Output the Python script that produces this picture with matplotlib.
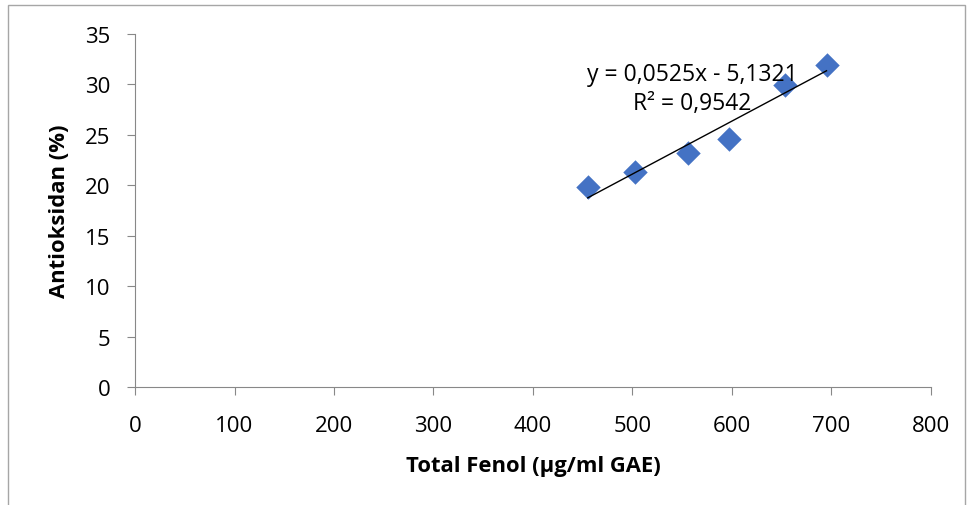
import matplotlib.pyplot as plt
import numpy as np
from matplotlib.patches import Rectangle

# Data
total_fenol = [455, 503, 556, 597, 653, 695]
antioksidan = [19.8, 21.3, 23.2, 24.6, 29.9, 31.9]
slope = 0.0525
intercept = -5.1321
r_squared = 0.9542

x_ticks = [0, 100, 200, 300, 400, 500, 600, 700, 800]
y_ticks = [0, 5, 10, 15, 20, 25, 30, 35]

plt.rcParams["font.family"] = ["Open Sans", "DejaVu Sans"]

fig = plt.figure(figsize=(9.72, 5.06), dpi=100)
ax = fig.add_axes([0.1389, 0.2332, 0.8189, 0.6976])

# chart border
fig.patches.append(Rectangle((8 / 972, -0.05), 957 / 972, 1.05 - 6 / 506,
                             transform=fig.transFigure, fill=False,
                             edgecolor="#a6a6a6", linewidth=1.0))

ax.scatter(total_fenol, antioksidan, marker="D", s=155, color="#4472C4",
           zorder=3, linewidths=0)

xs = np.array([min(total_fenol), max(total_fenol)])
ax.plot(xs, slope * xs + intercept, color="black", linewidth=1.0, zorder=4)

eq = f"y = {slope:.4f}x - {abs(intercept):.4f}".replace(".", ",")
r2 = f"R² = {r_squared:.4f}".replace(".", ",")
ax.text(560, 29.6, eq + "\n" + r2, ha="center", va="center", fontsize=16.5,
        linespacing=1.25, zorder=5)

ax.set_xlim(0, 800)
ax.set_ylim(0, 35)
ax.set_xticks(x_ticks)
ax.set_yticks(y_ticks)
ax.tick_params(direction="out", length=5.8, color="#888888", labelsize=16)
ax.tick_params(axis="x", pad=14)
ax.tick_params(axis="y", pad=12)

for side in ("top", "right"):
    ax.spines[side].set_visible(False)
for side in ("left", "bottom"):
    ax.spines[side].set_color("#888888")

ax.set_xlabel("Total Fenol (µg/ml GAE)", fontsize=15.8, fontweight="bold",
              labelpad=14)
ax.set_ylabel("Antioksidan (%)", fontsize=15.8, fontweight="bold",
              labelpad=11)

fig.savefig("out.png", dpi=100)
